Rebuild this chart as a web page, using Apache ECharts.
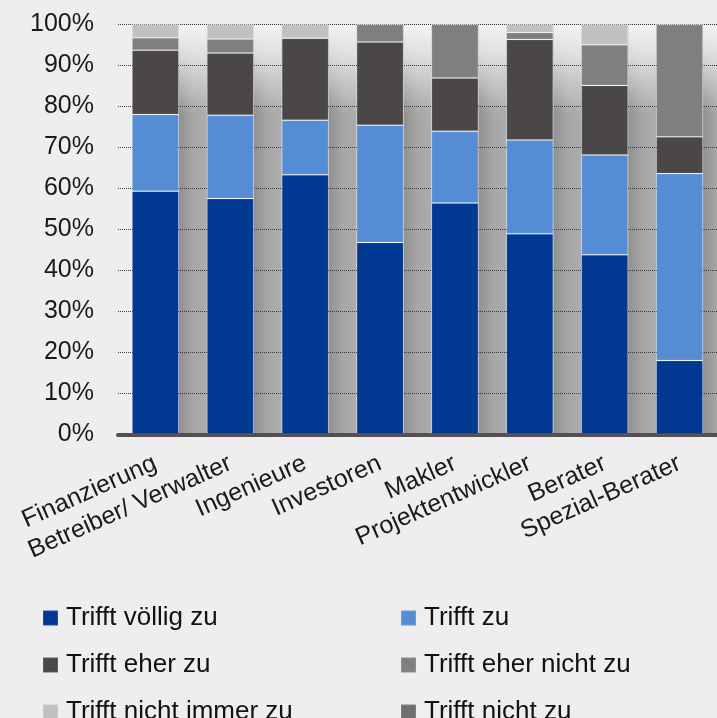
<!DOCTYPE html>
<html>
<head>
<meta charset="utf-8">
<script src="https://cdn.jsdelivr.net/npm/echarts@6/dist/echarts.min.js"></script>
<style>
html,body{margin:0;padding:0;background:#eeeeee;}
#chart{width:717px;height:718px;}
</style>
</head>
<body>
<div id="chart"></div>
<script>
const categories = ['Finanzierung','Betreiber/ Verwalter','Ingenieure','Investoren','Makler','Projektentwickler','Berater','Spezial-Berater'];
const seriesNames = ['Trifft völlig zu','Trifft zu','Trifft eher zu','Trifft eher nicht zu','Trifft nicht immer zu','Trifft nicht zu'];
const trifftVoelligZu     = [59.3, 57.5, 63.3, 46.8, 56.4, 48.9, 43.8, 18.0];
const trifftZu            = [18.7, 20.3, 13.3, 28.6, 17.5, 22.9, 24.3, 45.6];
const trifftEherZu        = [15.7, 15.2, 20.0, 20.3, 13.0, 24.5, 17.0,  9.0];
const trifftEherNichtZu   = [ 3.0,  3.4,  0.0,  4.3, 13.1,  1.7,  9.9, 27.4];
const trifftNichtImmerZu  = [ 3.3,  3.6,  3.4,  0.0,  0.0,  2.0,  5.0,  0.0];
const trifftNichtZu       = [ 0.0,  0.0,  0.0,  0.0,  0.0,  0.0,  0.0,  0.0];
const yTicks = [0,10,20,30,40,50,60,70,80,90,100];

const seriesData = [trifftVoelligZu, trifftZu, trifftEherZu, trifftEherNichtZu, trifftNichtImmerZu, trifftNichtZu];
const colors = ['#003894','#558dd5','#4b4746','#7f7f7f','#c0c0c0','#6f6f6f'];
const BAR_W = 47;
const FONT = '"Liberation Sans", Arial, sans-serif';

const chart = echarts.init(document.getElementById('chart'), null, {renderer:'canvas'});

const stripeSeries = {
  type: 'custom',
  z: -1,
  silent: true,
  data: categories.map((c, i) => i),
  renderItem: function (params, api) {
    const cs = params.coordSys;
    const center = api.coord([api.value(0), 0])[0];
    const band = api.size([1, 0])[0];
    const x0 = center + BAR_W / 2;
    const w = band - BAR_W;
    return {
      type: 'group',
      children: [
        {
          type: 'rect',
          shape: {x: x0, y: cs.y, width: w, height: cs.height},
          style: {fill: new echarts.graphic.LinearGradient(0,0,1,0,[
            {offset:0,color:'#909090'},{offset:0.5,color:'#a6a6a6'},{offset:1,color:'#acacac'}])}
        },
        {
          type: 'rect',
          shape: {x: x0, y: cs.y, width: w, height: cs.height * 0.22},
          style: {fill: new echarts.graphic.LinearGradient(0,0,0,1,[
            {offset:0,color:'rgba(244,244,244,1)'},{offset:0.35,color:'rgba(236,236,236,0.8)'},{offset:1,color:'rgba(235,235,235,0)'}])}
        }
      ]
    };
  }
};

const barSeries = seriesNames.map((name, k) => ({
  name: name,
  type: 'bar',
  stack: 'total',
  barWidth: BAR_W,
  data: seriesData[k],
  itemStyle: {color: colors[k], borderColor: 'rgba(255,255,255,0.12)', borderWidth: 1},
  emphasis: {disabled: true}
}));

const legendBase = {
  orient: 'vertical', top: 600, height: 200,
  itemWidth: 15, itemHeight: 15, itemGap: 21, icon: 'rect',
  textStyle: {fontSize: 26, color: '#111', fontFamily: FONT, padding: [0,0,0,3]}
};

chart.setOption({
  backgroundColor: '#eeeeee',
  animation: false,
  textStyle: {fontFamily: FONT},
  grid: {left: 118, top: 24.3, bottom: 283.7, right: -7.4},
  xAxis: {
    type: 'category',
    data: categories,
    axisLine: {show: true, lineStyle: {color: '#555050', width: 4}},
    axisTick: {show: false},
    axisLabel: {rotate: 24, fontSize: 25, color: '#1a1a1a', margin: 28, interval: 0, fontFamily: FONT}
  },
  yAxis: {
    type: 'value',
    min: 0, max: 100, interval: 10,
    axisLine: {show: false},
    axisTick: {show: false},
    axisLabel: {fontSize: 25, color: '#1a1a1a', margin: 24, fontFamily: FONT,
      formatter: v => (yTicks.indexOf(v) >= 0 ? v + '%' : '')},
    splitLine: {show: true, lineStyle: {type: 'dotted', color: '#3a3a3a', width: 1}}
  },
  legend: [
    Object.assign({}, legendBase, {left: 37, data: [seriesNames[0], seriesNames[2], seriesNames[4]]}),
    Object.assign({}, legendBase, {left: 395, data: [seriesNames[1], seriesNames[3], seriesNames[5]]})
  ],
  series: [stripeSeries].concat(barSeries)
});
</script>
</body>
</html>
